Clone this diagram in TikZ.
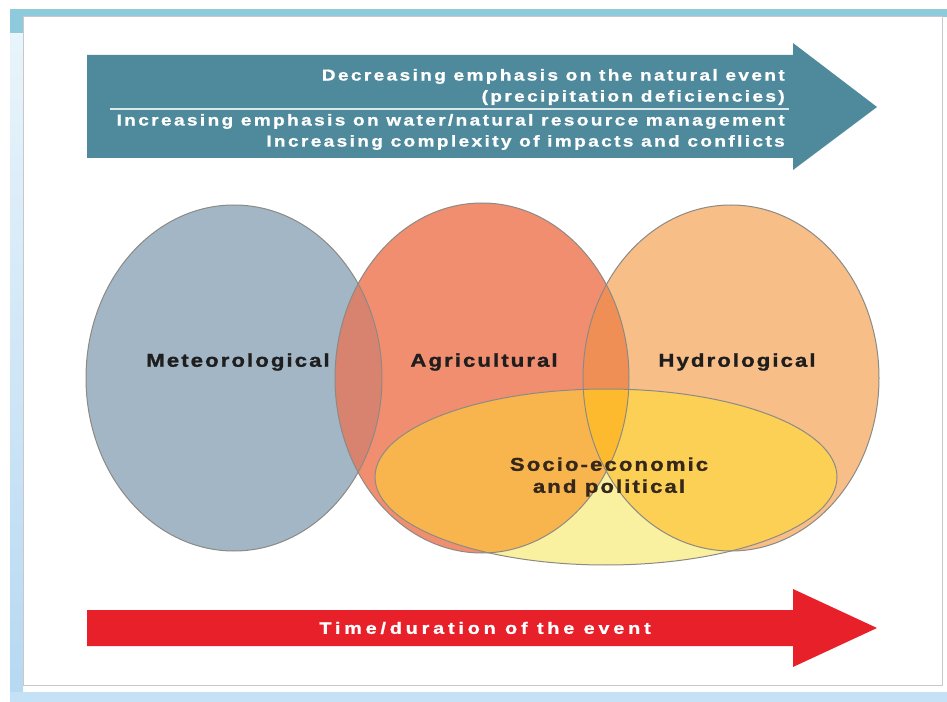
\documentclass[tikz,border=0pt]{standalone}
\usepackage{fontspec}
\setmainfont{Liberation Sans}
\newfontfamily\topfont{Liberation Sans}[FakeStretch=1.2,FakeBold=1,LetterSpace=15]
\newfontfamily\vennfont{Liberation Sans}[FakeStretch=1.2,FakeBold=1.2,LetterSpace=11]
\newfontfamily\timefont{Liberation Sans}[FakeStretch=1.2,FakeBold=1,LetterSpace=23]

\definecolor{bandblue}{HTML}{8DCBDC}
\definecolor{bandlow}{HTML}{C4E1F6}
\definecolor{stripTop}{HTML}{EAF5FB}
\definecolor{stripBot}{HTML}{B6D8F2}
\definecolor{panelline}{HTML}{C8C8CC}
\definecolor{emphblue}{HTML}{4E8A9C}
\definecolor{timered}{HTML}{E8202A}
\definecolor{metfill}{HTML}{A2B6C6}
\definecolor{agrfill}{HTML}{F28E70}
\definecolor{metagr}{HTML}{D8836F}
\definecolor{hydfill}{HTML}{F8BE88}
\definecolor{agrhyd}{HTML}{EF8E55}
\definecolor{socfill}{HTML}{F9F0A0}
\definecolor{socagr}{HTML}{F8B54E}
\definecolor{sochyd}{HTML}{FCD055}
\definecolor{socall}{HTML}{FDBA2E}
\definecolor{vennline}{HTML}{8C8A84}
\definecolor{labelink}{HTML}{1E1E1E}

% the four drought circles
\newcommand\metshape{(234,378) ellipse [x radius=148, y radius=173]}
\newcommand\agrshape{(482,378) ellipse [x radius=147, y radius=175]}
\newcommand\hydshape{(731,378) ellipse [x radius=148, y radius=173]}
\newcommand\socshape{(606,477) ellipse [x radius=231, y radius=88]}

\begin{document}
\begin{tikzpicture}[x=0.75pt,y=-0.75pt,
    venn edge/.style={draw=vennline, line width=0.75pt},
    toptext/.style={text=white, inner sep=0pt, align=right,
        font=\topfont\bfseries\fontsize{11.9}{15.8}\selectfont},
    venntext/.style={text=labelink, inner sep=0pt, align=center,
        font=\vennfont\bfseries\fontsize{13.9}{16.5}\selectfont},
    timetext/.style={text=white, inner sep=0pt,
        font=\timefont\bfseries\fontsize{12.4}{15}\selectfont}]
    \useasboundingbox (0,0) rectangle (947,702);
    % frame
    \fill[bandblue] (10,9) rectangle (947,17);
    \shade[top color=stripTop, bottom color=stripBot] (10,17) rectangle (23,702);
    \fill[bandblue] (10,9) rectangle (23,33);
    \fill[bandlow] (10,692) rectangle (947,702);
    \draw[panelline, fill=white, line width=0.75pt] (23,17) rectangle (942,685);

    % top arrow
    \fill[emphblue] (87,55) -- (793,55) -- (793,43) -- (877,107) -- (793,170) -- (793,158) -- (87,158) -- cycle;
    \draw[white!80!emphblue, line width=1.1pt] (110,109) -- (789,109);
    \node[toptext, anchor=east] (natural) at (785,87) {Decreasing emphasis on the natural event\\(precipitation deficiencies)};
    \node[toptext, anchor=east] (manage) at (785,132) {Increasing emphasis on water/natural resource management\\Increasing complexity of impacts and conflicts};

    % venn
    \fill[metfill] \metshape;
    \fill[agrfill] \agrshape;
    \fill[hydfill] \hydshape;
    \begin{scope}
        \clip \metshape;
        \fill[metagr] \agrshape;
    \end{scope}
    \begin{scope}
        \clip \agrshape;
        \fill[agrhyd] \hydshape;
    \end{scope}
    \fill[socfill] \socshape;
    \begin{scope}
        \clip \socshape;
        \fill[socagr] \agrshape;
        \fill[sochyd] \hydshape;
        \clip \agrshape;
        \fill[socall] \hydshape;
    \end{scope}
    \foreach \s in {\metshape,\agrshape,\hydshape,\socshape}
        \draw[venn edge] \s;
    \node[venntext] (met) at (238,362) {Meteorological};
    \node[venntext] (agr) at (484,362) {Agricultural};
    \node[venntext] (hyd) at (737,362) {Hydrological};
    \node[venntext, text=labelink!90!orange] (soc) at (609,477) {Socio-economic\\and political};

    % bottom arrow
    \fill[timered] (87,610) -- (793,610) -- (793,589) -- (877,628) -- (793,667) -- (793,646) -- (87,646) -- cycle;
    \node[timetext] (time) at (485,628) {Time/duration of the event};
\end{tikzpicture}
\end{document}
